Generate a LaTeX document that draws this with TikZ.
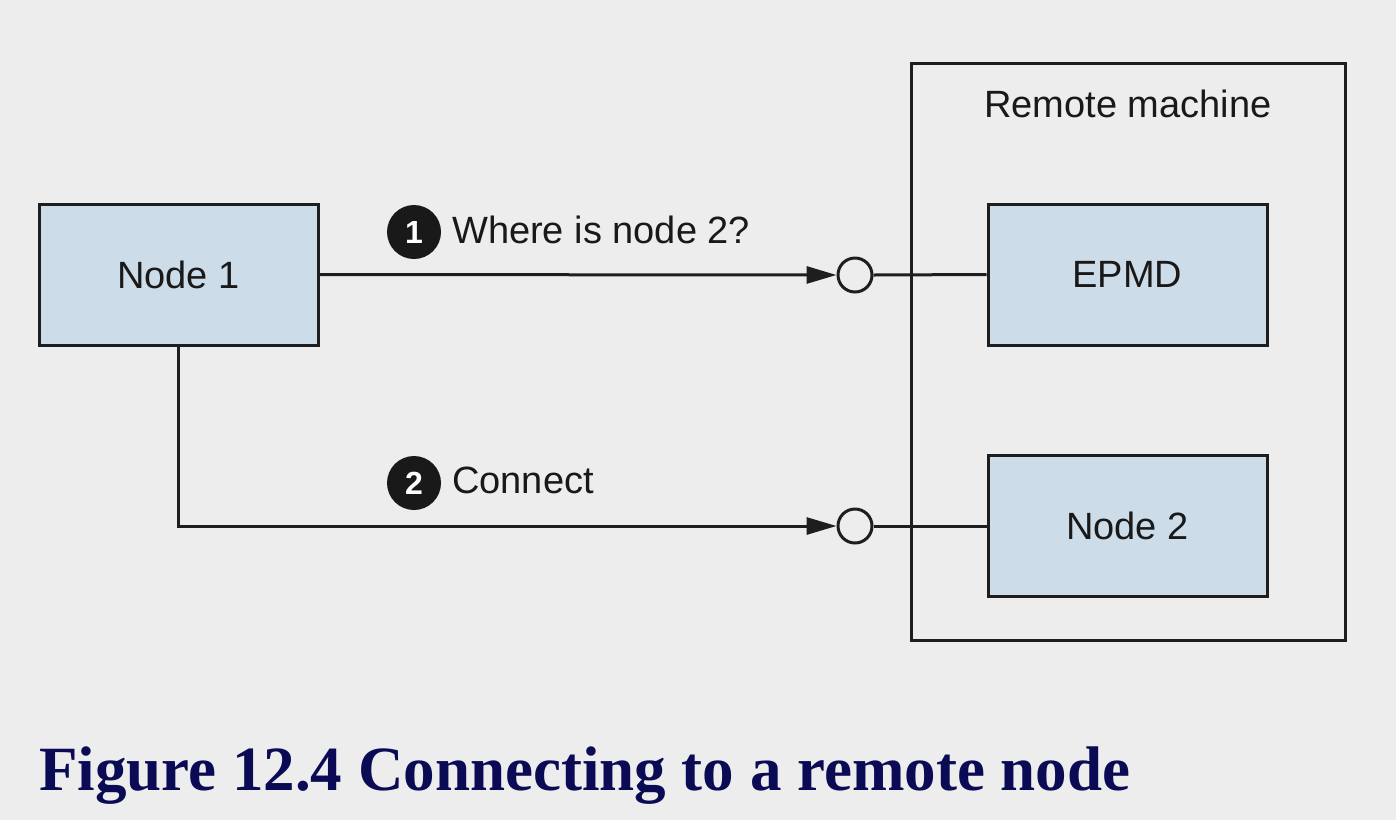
\documentclass[tikz,border=0pt]{standalone}
\usepackage{fontspec}
\setmainfont{Liberation Sans}
\newfontfamily\capfont{Liberation Serif}
\usetikzlibrary{arrows.meta}
\definecolor{bg}{HTML}{EDEDED}
\definecolor{boxfill}{HTML}{CDDCE9}
\definecolor{edge}{HTML}{1E1E1E}
\definecolor{navy}{HTML}{0B0B55}
\tikzset{
  box/.style={draw=edge, line width=3pt, fill=boxfill, minimum width=279pt, minimum height=141pt, inner sep=0pt, font=\fontsize{38}{44}\selectfont, text=black!90},
  frame/.style={draw=edge, line width=3pt, minimum width=434pt, minimum height=577pt, inner sep=0pt},
  port/.style={draw=edge, line width=3pt, fill=bg, circle, minimum size=34pt, inner sep=0pt},
  conn/.style={draw=edge, line width=3pt},
  arr/.style={conn, -{Triangle[length=30pt,width=17pt]}},
  badge/.style={circle, fill=black!90, minimum size=54pt, inner sep=0pt, text=white, font=\fontsize{32}{34}\bfseries\selectfont},
  lbl/.style={anchor=base west, inner sep=0pt, font=\fontsize{38}{44}\selectfont, text=black!90},
}
\begin{document}
\begin{tikzpicture}[x=1pt,y=-1pt]
\fill[bg] (0,0) rectangle (1396,820);
\useasboundingbox (0,0) rectangle (1396,820);
\node[frame] (remote) at (1128,351.5) {};
\node[anchor=base, inner sep=0pt, font=\fontsize{38}{44}\selectfont, text=black!90] (rlabel) at (1128,117) {Remote machine};
\node[box] (n1) at (178.5,274.5) {Node 1};
\node[box] (epmd) at (1127.5,274.5) {EPMD};
\node[box] (n2) at (1127.5,526) {Node 2};
\node[port] (c1) at (855,275) {};
\node[port] (c2) at (855,526) {};
\draw[arr] (n1.east) -- (c1.west);
\draw[conn] (c1.east) -- (epmd.west);
\draw[arr] (n1.south) |- (c2.west);
\draw[conn] (c2.east) -- (n2.west);
\node[badge] (b1) at (414,232) {1};
\node[lbl] (t1) at (452,243) {Where is node 2?};
\node[badge] (b2) at (414,483) {2};
\node[lbl] (t2) at (452,493) {Connect};
\node[anchor=base west, inner sep=0pt, text=navy, font=\capfont\fontsize{63}{70}\bfseries\selectfont] (cap) at (39,790) {Figure 12.4 Connecting to a remote node};
\end{tikzpicture}
\end{document}
